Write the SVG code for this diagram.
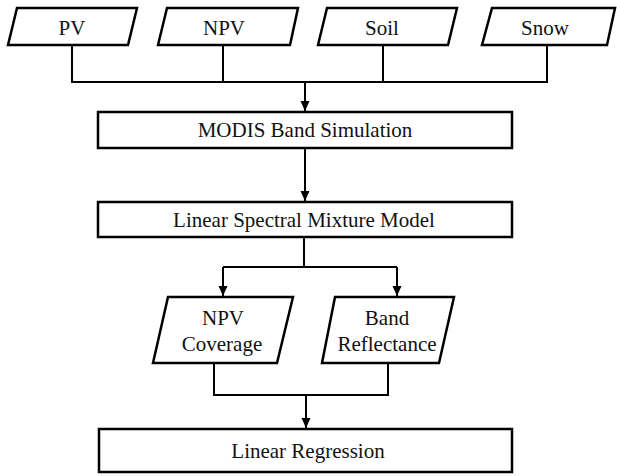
<svg xmlns="http://www.w3.org/2000/svg" width="617" height="476" viewBox="0 0 617 476" font-family="Liberation Serif" font-size="21">
<style>
.shape{fill:#fff;stroke:#000;stroke-width:2.5;stroke-linejoin:miter}
.line{fill:none;stroke:#000;stroke-width:2}
.t{fill:#111;text-anchor:middle}
</style>
<defs>
<marker id="ah" markerUnits="userSpaceOnUse" markerWidth="10" markerHeight="10" viewBox="0 0 10 10" refX="10" refY="5" orient="auto">
<path d="M0,0.5 L10,5 L0,9.5 Z" fill="#000"/>
</marker>
</defs>
<g id="connectors">
<path class="line" d="M72,45 V82 H547 V45"/>
<path class="line" d="M223,45 V82"/>
<path class="line" d="M383,45 V82"/>
<path class="line" d="M305,82 V111" marker-end="url(#ah)"/>
<path class="line" d="M305,148 V201" marker-end="url(#ah)"/>
<path class="line" d="M304,237 V267"/>
<path class="line" d="M223,267 H397"/>
<path class="line" d="M223,267 V296" marker-end="url(#ah)"/>
<path class="line" d="M397,267 V296" marker-end="url(#ah)"/>
<path class="line" d="M214,363 V395 H388 V363"/>
<path class="line" d="M306,395 V428" marker-end="url(#ah)"/>
</g>
<g id="pv">
<polygon class="shape" points="17,8 137,8 128,45 8,45"/>
<text class="t" x="72" y="35">PV</text>
</g>
<g id="npv">
<polygon class="shape" points="167,8 298,8 290,45 158,45"/>
<text class="t" x="224" y="35">NPV</text>
</g>
<g id="soil">
<polygon class="shape" points="327,8 457,8 448,45 318,45"/>
<text class="t" x="382" y="35">Soil</text>
</g>
<g id="snow">
<polygon class="shape" points="492,8 615,8 607,45 482,45"/>
<text class="t" x="545" y="35">Snow</text>
</g>
<g id="modis">
<rect class="shape" x="98" y="112" width="414" height="36"/>
<text class="t" x="305" y="137">MODIS Band Simulation</text>
</g>
<g id="lsmm">
<rect class="shape" x="98" y="202" width="414" height="35"/>
<text class="t" x="304" y="227">Linear Spectral Mixture Model</text>
</g>
<g id="npv-coverage">
<polygon class="shape" points="168,297 293,297 277,363 153,363"/>
<text class="t" x="223" y="325">NPV</text>
<text class="t" x="222" y="351">Coverage</text>
</g>
<g id="band-reflectance">
<polygon class="shape" points="335,297 454,297 439,363 322,363"/>
<text class="t" x="387" y="325">Band</text>
<text class="t" x="387" y="351">Reflectance</text>
</g>
<g id="linear-regression">
<rect class="shape" x="99" y="429" width="413" height="43"/>
<text class="t" x="308" y="458">Linear Regression</text>
</g>
</svg>
